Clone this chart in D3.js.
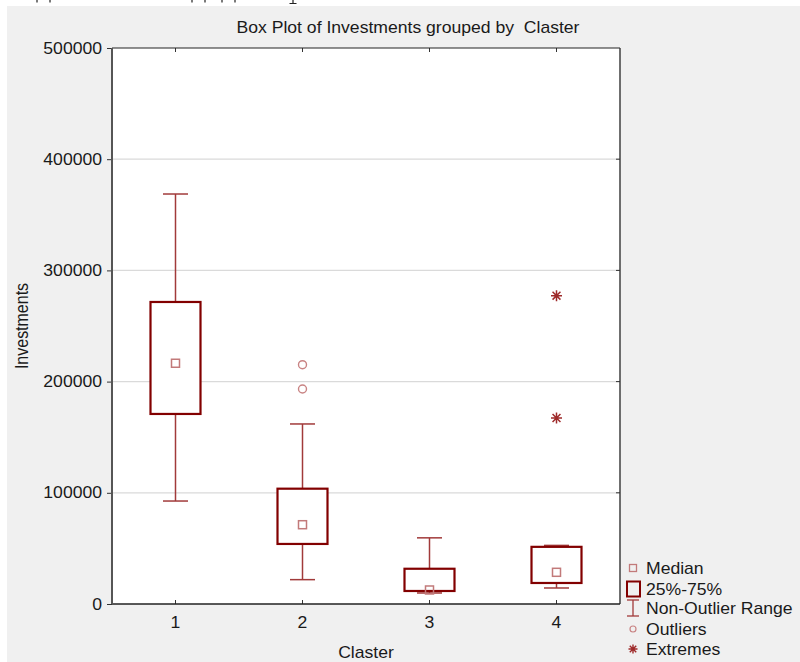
<!DOCTYPE html>
<html>
<head>
<meta charset="utf-8">
<script src="https://cdn.jsdelivr.net/npm/d3@7"></script>
<style>
  html, body { margin: 0; padding: 0; background: #ffffff; }
  svg { display: block; }
  text { font-family: "Liberation Sans", Arial, sans-serif; fill: #1a1a1a; white-space: pre; }
</style>
</head>
<body>
<svg id="chart" width="800" height="662"></svg>
<script>
// Investments by cluster: box statistics per cluster
const categories   = ["1", "2", "3", "4"];
const whiskerLow   = [92600, 21900, 9900, 14400];
const quartile1    = [170900, 54000, 11700, 18900];
const medians      = [216500, 71300, 12600, 28500];
const quartile3    = [271600, 103700, 31700, 51400];
const whiskerHigh  = [368700, 161900, 59500, 52700];
const outliers     = [[], [193300, 215200], [], []];
const extremes     = [[], [], [], [167300, 277300]];
const yTicks       = [0, 100000, 200000, 300000, 400000, 500000];
const legendItems  = ["Median", "25%-75%", "Non-Outlier Range", "Outliers", "Extremes"];

const boxColor     = "#820000";
const whiskerColor = "#a13a3a";
const medianColor  = "#c27a7a";
const outlierColor = "#c98484";
const extremeColor = "#9e2a2a";
const stretch = 1.1;   // horizontal widening of the label typeface

const svg = d3.select("#chart");

const plot = { left: 112, right: 620, top: 48, bottom: 604 };
const y = d3.scaleLinear().domain([0, 500000]).range([plot.bottom, plot.top]);
const x = d3.scaleBand().domain(categories).range([plot.left, plot.right]);
const cx = c => x(c) + x.bandwidth() / 2;

// helper: widened text anchored at (px, py)
function wideText(g, px, py, str, opts = {}) {
  return g.append("text")
    .attr("transform", `translate(${px},${py}) scale(${stretch},1)`)
    .attr("text-anchor", opts.anchor || "start")
    .attr("font-size", opts.size || 16)
    .text(str);
}

// descender feet of the page text line that sits just above the figure
svg.append("path")
  .attr("d", "M37,0V2.5M50,0V2.5M192,0V2.5M205,0V2.5M222,0V2.5M235,0V2.5M293,0V3.5M289.5,3.5H296.5")
  .attr("stroke", "#222").attr("stroke-width", 1.2).attr("fill", "none");

// figure background
svg.append("rect")
  .attr("x", 7).attr("y", 6).attr("width", 793).attr("height", 656)
  .attr("fill", "#f0f0f0");

// plot area
svg.append("rect")
  .attr("x", plot.left).attr("y", plot.top)
  .attr("width", plot.right - plot.left).attr("height", plot.bottom - plot.top)
  .attr("fill", "#ffffff");

// horizontal gridlines
svg.append("g")
  .selectAll("line")
  .data(yTicks.filter(v => v > 0 && v < 500000))
  .join("line")
  .attr("x1", plot.left).attr("x2", plot.right)
  .attr("y1", d => y(d)).attr("y2", d => y(d))
  .attr("stroke", "#dadada").attr("stroke-width", 1.2);

// left axis
const yAxis = svg.append("g")
  .attr("transform", `translate(${plot.left},0)`)
  .call(d3.axisLeft(y).tickValues(yTicks).tickFormat(d3.format("d")).tickSize(5).tickPadding(5));
yAxis.select(".domain").remove();
yAxis.selectAll(".tick line").attr("stroke", "#333");
yAxis.selectAll(".tick text")
  .attr("font-size", 16)
  .attr("font-family", "'Liberation Sans', Arial, sans-serif")
  .attr("fill", "#1a1a1a")
  .each(function () {
    const t = d3.select(this);
    const px = +t.attr("x");
    t.attr("x", px / stretch).attr("transform", `scale(${stretch},1)`);
  });

// right side inner ticks
svg.append("g")
  .selectAll("line")
  .data(yTicks.filter(v => v > 0 && v < 500000))
  .join("line")
  .attr("x1", plot.right - 4).attr("x2", plot.right)
  .attr("y1", d => y(d)).attr("y2", d => y(d))
  .attr("stroke", "#333");

// bottom axis: inner ticks and labels
const xAxis = svg.append("g")
  .attr("transform", `translate(0,${plot.bottom})`)
  .call(d3.axisBottom(x).tickSize(-4).tickPadding(12));
xAxis.select(".domain").remove();
xAxis.selectAll(".tick line").attr("stroke", "#333");
xAxis.selectAll(".tick text")
  .attr("font-size", 16)
  .attr("font-family", "'Liberation Sans', Arial, sans-serif")
  .attr("fill", "#1a1a1a")
  .attr("dy", "0.71em")
  .attr("y", 13)
  .attr("transform", `scale(${stretch},1)`);

// top inner ticks
svg.append("g")
  .selectAll("line")
  .data(categories)
  .join("line")
  .attr("x1", d => cx(d)).attr("x2", d => cx(d))
  .attr("y1", plot.top).attr("y2", plot.top + 4)
  .attr("stroke", "#333");

// plot frame
svg.append("line").attr("x1", plot.left).attr("x2", plot.right).attr("y1", plot.top).attr("y2", plot.top)
  .attr("stroke", "#222").attr("stroke-width", 1.2);
svg.append("line").attr("x1", plot.right).attr("x2", plot.right).attr("y1", plot.top).attr("y2", plot.bottom)
  .attr("stroke", "#333").attr("stroke-width", 1.4);
svg.append("line").attr("x1", plot.left).attr("x2", plot.right).attr("y1", plot.bottom).attr("y2", plot.bottom)
  .attr("stroke", "#222").attr("stroke-width", 1.6);
svg.append("line").attr("x1", plot.left).attr("x2", plot.left).attr("y1", plot.top).attr("y2", plot.bottom)
  .attr("stroke", "#555").attr("stroke-width", 2);

// box plots
const boxW = 50, capW = 25, medSize = 8;
const stats = categories.map((c, i) => ({
  c, lo: whiskerLow[i], q1: quartile1[i], med: medians[i], q3: quartile3[i], hi: whiskerHigh[i],
  out: outliers[i], ext: extremes[i]
}));

const boxes = svg.append("g").selectAll("g").data(stats).join("g");

// whisker stems
boxes.append("line")
  .attr("x1", d => cx(d.c)).attr("x2", d => cx(d.c))
  .attr("y1", d => y(d.hi)).attr("y2", d => y(d.q3))
  .attr("stroke", whiskerColor).attr("stroke-width", 1.5);
boxes.append("line")
  .attr("x1", d => cx(d.c)).attr("x2", d => cx(d.c))
  .attr("y1", d => y(d.q1)).attr("y2", d => y(d.lo))
  .attr("stroke", whiskerColor).attr("stroke-width", 1.5);
// whisker caps
boxes.append("line")
  .attr("x1", d => cx(d.c) - capW / 2).attr("x2", d => cx(d.c) + capW / 2)
  .attr("y1", d => y(d.hi)).attr("y2", d => y(d.hi))
  .attr("stroke", whiskerColor).attr("stroke-width", 1.5);
boxes.append("line")
  .attr("x1", d => cx(d.c) - capW / 2).attr("x2", d => cx(d.c) + capW / 2)
  .attr("y1", d => y(d.lo)).attr("y2", d => y(d.lo))
  .attr("stroke", whiskerColor).attr("stroke-width", 1.5);
// boxes
boxes.append("rect")
  .attr("x", d => cx(d.c) - boxW / 2).attr("width", boxW)
  .attr("y", d => y(d.q3)).attr("height", d => y(d.q1) - y(d.q3))
  .attr("fill", "#ffffff").attr("stroke", boxColor).attr("stroke-width", 2.2);
// median markers
boxes.append("rect")
  .attr("x", d => cx(d.c) - medSize / 2).attr("width", medSize)
  .attr("y", d => y(d.med) - medSize / 2).attr("height", medSize)
  .attr("fill", "none").attr("stroke", medianColor).attr("stroke-width", 1.5);
// outliers
boxes.selectAll("circle")
  .data(d => d.out.map(v => ({ c: d.c, v })))
  .join("circle")
  .attr("cx", d => cx(d.c)).attr("cy", d => y(d.v)).attr("r", 4)
  .attr("fill", "none").attr("stroke", outlierColor).attr("stroke-width", 1.4);
// extremes: eight-spoke asterisk
function asterisk(s) {
  const a = s * 0.72;
  return `M0,${-s}L0,${s}M${-s},0L${s},0M${-a},${-a}L${a},${a}M${-a},${a}L${a},${-a}`;
}
boxes.selectAll("path.ext")
  .data(d => d.ext.map(v => ({ c: d.c, v })))
  .join("path")
  .attr("class", "ext")
  .attr("transform", d => `translate(${cx(d.c)},${y(d.v)})`)
  .attr("d", asterisk(5.5))
  .attr("stroke", extremeColor).attr("stroke-width", 1.5).attr("fill", "none");

// title and axis titles
wideText(svg, 408, 33, "Box Plot of Investments grouped by  Claster", { anchor: "middle", size: 16 });
wideText(svg, (plot.left + plot.right) / 2, 658, "Claster", { anchor: "middle", size: 16 });
svg.append("text")
  .attr("transform", `translate(28,${(plot.top + plot.bottom) / 2}) rotate(-90) scale(1,${stretch})`)
  .attr("text-anchor", "middle")
  .attr("font-size", 16)
  .text("Investments");

// legend
const lg = svg.append("g");
const lx = 633, rowY = [568, 589, 608, 629, 649];
lg.append("rect").attr("x", lx - 3.5).attr("y", rowY[0] - 3.5).attr("width", 7).attr("height", 7)
  .attr("fill", "none").attr("stroke", medianColor).attr("stroke-width", 1.3);
lg.append("rect").attr("x", lx - 6).attr("y", rowY[1] - 7.5).attr("width", 13).attr("height", 15)
  .attr("fill", "none").attr("stroke", boxColor).attr("stroke-width", 2);
lg.append("line").attr("x1", lx).attr("x2", lx).attr("y1", rowY[2] - 8).attr("y2", rowY[2] + 8)
  .attr("stroke", whiskerColor).attr("stroke-width", 1.3);
lg.append("line").attr("x1", lx - 6).attr("x2", lx + 6).attr("y1", rowY[2] - 8).attr("y2", rowY[2] - 8)
  .attr("stroke", whiskerColor).attr("stroke-width", 1.3);
lg.append("line").attr("x1", lx - 6).attr("x2", lx + 6).attr("y1", rowY[2] + 8).attr("y2", rowY[2] + 8)
  .attr("stroke", whiskerColor).attr("stroke-width", 1.3);
lg.append("circle").attr("cx", lx).attr("cy", rowY[3]).attr("r", 3)
  .attr("fill", "none").attr("stroke", outlierColor).attr("stroke-width", 1.2);
lg.append("path").attr("transform", `translate(${lx},${rowY[4]})`).attr("d", asterisk(4.5))
  .attr("stroke", extremeColor).attr("stroke-width", 1.4).attr("fill", "none");
legendItems.forEach((t, i) => wideText(lg, 646, rowY[i] + 5.5, t, { size: 16 }));
</script>
</body>
</html>
